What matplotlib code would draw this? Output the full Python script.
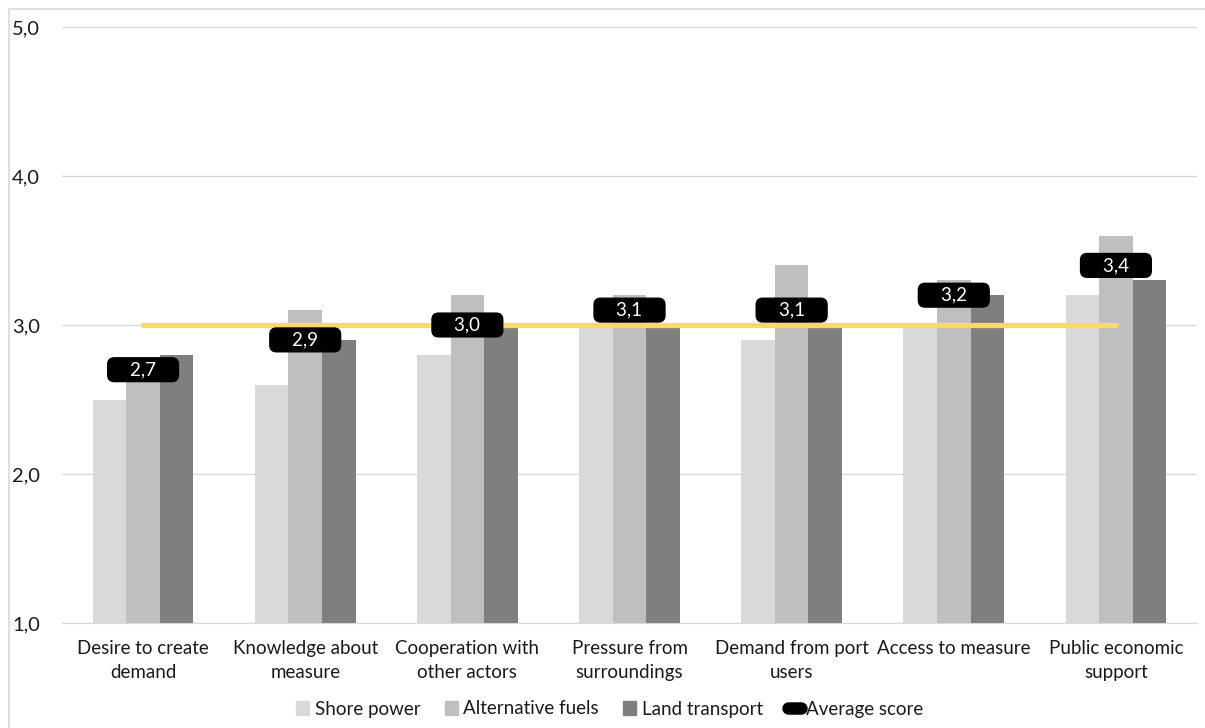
import matplotlib
matplotlib.use("Agg")
import matplotlib.pyplot as plt
from matplotlib.patches import Rectangle, Patch
from matplotlib.lines import Line2D
from matplotlib.ticker import FuncFormatter
import numpy as np

plt.rcParams["font.family"] = ["Lato", "DejaVu Sans"]

categories = ["Desire to create\ndemand", "Knowledge about\nmeasure",
              "Cooperation with\nother actors", "Pressure from\nsurroundings",
              "Demand from port\nusers", "Access to measure",
              "Public economic\nsupport"]
shore_power = [2.5, 2.6, 2.8, 3.0, 2.9, 3.0, 3.2]
alt_fuels = [2.7, 3.1, 3.2, 3.2, 3.4, 3.3, 3.6]
land_transport = [2.8, 2.9, 3.0, 3.0, 3.0, 3.2, 3.3]
average_score = [2.7, 2.9, 3.0, 3.1, 3.1, 3.2, 3.4]
reference_line = [3.0, 3.0, 3.0, 3.0, 3.0, 3.0, 3.0]

C_SHORE, C_ALT, C_LAND = "#d9d9d9", "#bfbfbf", "#7f7f7f"
C_GRID = "#d9d9d9"
C_YELLOW = "#ffd966"
C_TEXT = "#1a1a1a"

fig = plt.figure(figsize=(12.05, 7.28), dpi=100)
ax = fig.add_axes([62 / 1205, 1 - 623 / 728, 1135 / 1205, 596 / 728])

x = np.arange(len(categories))
w = 0.207
base = 1.0
for off, vals, col in [(-w, shore_power, C_SHORE), (0, alt_fuels, C_ALT),
                       (w, land_transport, C_LAND)]:
    v = np.array(vals)
    ax.bar(x + off, v - base, w, bottom=base, color=col, zorder=2)

ax.plot(x, reference_line, color=C_YELLOW, lw=3.8, solid_capstyle="round", zorder=3)

for xi, v in zip(x, average_score):
    ax.text(xi, v, "    " + f"{v:.1f}".replace(".", ",") + "    ",
            ha="center", va="center", color="white", fontsize=13.5, zorder=5,
            bbox=dict(boxstyle="round,pad=0.18,rounding_size=0.35", fc="black", ec="black"))

ax.set_xlim(-0.5, len(categories) - 0.5)
ax.set_ylim(1, 5)
ax.set_yticks([1, 2, 3, 4, 5])
ax.yaxis.set_major_formatter(FuncFormatter(lambda v, p: f"{v:.1f}".replace(".", ",")))
ax.set_xticks(x)
ax.set_xticklabels(categories, fontsize=13.5, color=C_TEXT, linespacing=1.55)
ax.tick_params(axis="both", length=0, colors=C_TEXT)
ax.tick_params(axis="y", labelsize=14.5, pad=16)
ax.tick_params(axis="x", pad=12)
ax.grid(axis="y", color=C_GRID, lw=1, zorder=0)
ax.set_axisbelow(True)
for s in ["top", "right", "left"]:
    ax.spines[s].set_visible(False)
ax.spines["bottom"].set_color(C_GRID)

handles = [Patch(color=C_SHORE), Patch(color=C_ALT), Patch(color=C_LAND),
           Line2D([0], [0], color="black", lw=9, solid_capstyle="round")]
labels = ["Shore power", "Alternative fuels", "Land transport", "Average score"]
fig.legend(handles, labels, loc="center", bbox_to_anchor=(0.506, 1 - 709 / 728),
           ncol=4, frameon=False, fontsize=13.5, handlelength=0.7, handleheight=0.7,
           handletextpad=0.3, columnspacing=1.3, labelcolor=C_TEXT)

fig.patches.append(Rectangle((9 / 1205, -0.1), 1.2, 1.1 - 9 / 728, transform=fig.transFigure,
                             fill=False, ec=C_GRID, lw=1.2))

fig.savefig("out.png", dpi=100)
